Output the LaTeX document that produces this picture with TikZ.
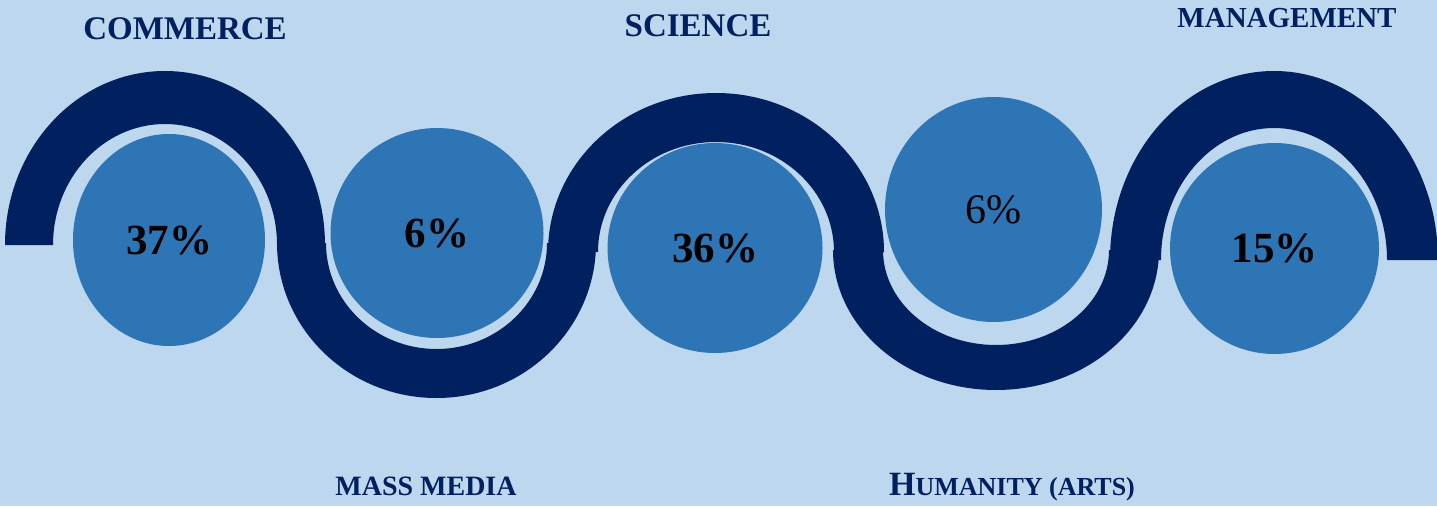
\documentclass[tikz,border=0pt]{standalone}
\usepackage{fontspec}
\setmainfont{Liberation Serif}
\usetikzlibrary{shapes.geometric}

\definecolor{bgblue}{HTML}{BDD7EE}
\definecolor{navy}{HTML}{002060}
\definecolor{midblue}{HTML}{2E75B6}

\begin{document}
\begin{tikzpicture}[
    x=1pt, y=1pt,
    band/.style={fill=navy},                % the wave
    bubble/.style={ellipse, fill=midblue, inner sep=0pt, text=black,
        font=\fontsize{43}{43}\selectfont\bfseries},
    field/.style={text=navy, inner sep=0pt,
        font=\fontsize{33}{33}\selectfont\bfseries}]
    % Background
    \useasboundingbox (0,0) rectangle (1437,-506);
    \fill[bgblue] (0,0) rectangle (1437,-506);
    \clip (0,0) rectangle (1437,-506);

    % Wave: half rings, up - down - up - down - up
    \fill[band] (5,-245) arc[start angle=180, end angle=0, x radius=160pt, y radius=174pt]
        -- (277,-245) arc[start angle=0, end angle=180, x radius=112pt, y radius=121pt] -- cycle;
    \fill[band] (277,-243) arc[start angle=180, end angle=360, x radius=159.5pt, y radius=155pt]
        -- (547,-243) arc[start angle=360, end angle=180, x radius=110.5pt, y radius=106pt] -- cycle;
    \fill[band] (548,-252) arc[start angle=180, end angle=0, x radius=168pt, y radius=159pt]
        -- (834,-252) arc[start angle=0, end angle=180, x radius=118pt, y radius=110pt] -- cycle;
    \fill[band] (833,-250) arc[start angle=180, end angle=360, x radius=163pt, y radius=140pt]
        -- (1109,-250) arc[start angle=360, end angle=180, x radius=113pt, y radius=95pt] -- cycle;
    \fill[band] (1110,-260) arc[start angle=180, end angle=0, x radius=164pt, y radius=189pt]
        -- (1387,-260) arc[start angle=0, end angle=180, x radius=113pt, y radius=132pt] -- cycle;

    % Bubbles
    \node[bubble, minimum width=192pt, minimum height=212pt] (c37) at (169,-240) {37\%};
    \node[bubble, minimum width=213pt, minimum height=210pt] (c6m) at (437,-233) {6\%};
    \node[bubble, minimum width=215pt, minimum height=210pt] (c36) at (715,-248) {36\%};
    \node[bubble, minimum width=217pt, minimum height=225pt, font=\fontsize{42}{42}\selectfont] (c6h) at (993.5,-209.5) {6\%};
    \node[bubble, minimum width=209pt, minimum height=211pt] (c15) at (1274.5,-248.5) {15\%};

    % Streams
    \node[field] (lcom) at (185,-29) {COMMERCE};
    \node[field] (lsci) at (698,-26) {SCIENCE};
    \node[field, font=\fontsize{29}{29}\selectfont\bfseries] (lman) at (1287,-18) {MANAGEMENT};
    \node[field, font=\fontsize{28}{28}\selectfont\bfseries] (lmass) at (426,-486) {MASS MEDIA};
    \node[field, anchor=base] (lhum) at (1012,-495)
        {{\fontsize{34}{34}\selectfont H}{\fontsize{26}{26}\selectfont UMANITY (ARTS)}};
\end{tikzpicture}
\end{document}
